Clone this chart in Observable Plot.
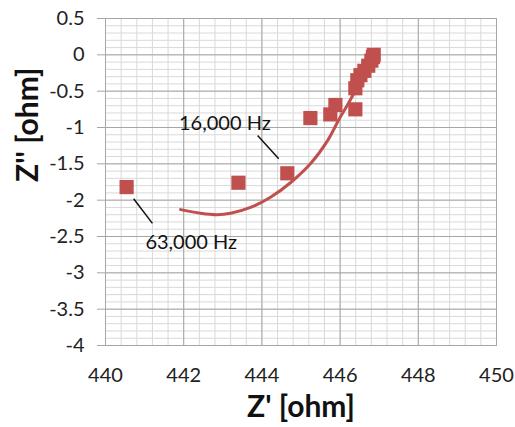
<!DOCTYPE html>
<html>
<head>
<meta charset="utf-8">
<script src="https://cdn.jsdelivr.net/npm/d3@7"></script>
<script src="https://cdn.jsdelivr.net/npm/@observablehq/plot@0.6"></script>
<style>
  html, body { margin: 0; padding: 0; background: #fff; }
  #chart { width: 515px; height: 427px; }
</style>
</head>
<body>
<div id="chart"></div>
<script>
// Measured points (Z' real, Z'' imaginary), ohm
const measZre = [440.54, 443.40, 444.65, 445.24, 445.75, 445.88, 446.39, 446.39, 446.44, 446.52, 446.62, 446.72, 446.80, 446.84, 446.86];
const measZim = [-1.82, -1.76, -1.63, -0.87, -0.82, -0.69, -0.75, -0.46, -0.35, -0.28, -0.22, -0.15, -0.08, -0.03, 0.00];

// Fitted model curve
const fitZre = [441.92, 442.43, 442.86, 443.20, 443.71, 444.22, 444.73, 445.24, 445.68, 445.96, 446.21, 446.42, 446.62, 446.80];
const fitZim = [-2.13, -2.18, -2.20, -2.18, -2.10, -1.96, -1.76, -1.50, -1.18, -0.90, -0.67, -0.46, -0.24, -0.05];

// Annotations
const annoText = ["16,000 Hz", "63,000 Hz"];
const annoX = [441.88, 441.02];
const annoY = [-0.95, -2.58];
const leadX1 = [443.89, 440.72];
const leadY1 = [-1.11, -1.98];
const leadX2 = [444.43, 441.20];
const leadY2 = [-1.43, -2.32];

// Axis ticks
const xTicks = [440, 442, 444, 446, 448, 450];
const yTicks = [0.5, 0, -0.5, -1, -1.5, -2, -2.5, -3, -3.5, -4];
const xMinor = d3.range(0, 26).map(i => 440 + i * 0.4);
const yMinor = d3.range(0, 46).map(i => -4 + i * 0.1);

const xTitle = "Z' [ohm]";
const yTitle = "Z'' [ohm]";

const red = "#C0504D";
const meas = measZre.map((x, i) => ({x, y: measZim[i]}));
const fit = fitZre.map((x, i) => ({x, y: fitZim[i]}));
const anno = annoText.map((t, i) => ({t, x: annoX[i], y: annoY[i], x1: leadX1[i], y1: leadY1[i], x2: leadX2[i], y2: leadY2[i]}));

const chart = Plot.plot({
  width: 515,
  height: 427,
  marginLeft: 105,
  marginRight: 19,
  marginTop: 18,
  marginBottom: 82,
  style: {fontFamily: "Lato, 'Open Sans', sans-serif", fontSize: "20px", color: "#222", background: "#fff"},
  x: {domain: [440, 450]},
  y: {domain: [-4, 0.5]},
  marks: [
    Plot.gridX(xMinor, {stroke: "#d9d9d9", strokeOpacity: 1, strokeWidth: 1}),
    Plot.gridY(yMinor, {stroke: "#d9d9d9", strokeOpacity: 1, strokeWidth: 1}),
    Plot.gridX(xTicks, {stroke: "#a6a6a6", strokeOpacity: 1, strokeWidth: 1}),
    Plot.gridY(yTicks, {stroke: "#a6a6a6", strokeOpacity: 1, strokeWidth: 1}),
    Plot.frame({stroke: "#a6a6a6"}),
    Plot.axisY({ticks: yTicks, tickSize: 8, text: null, stroke: "#a6a6a6", label: null}),
    Plot.axisY({ticks: yTicks, tickSize: 0, tickPadding: 21, tickFormat: d => String(d), fontSize: 20, label: null}),
    Plot.axisX({ticks: xTicks, tickSize: 0, tickPadding: 22, tickFormat: d => String(d), fontSize: 20, label: null}),
    Plot.line(fit, {x: "x", y: "y", stroke: red, strokeWidth: 3, curve: "catmull-rom"}),
    Plot.dot(meas, {x: "x", y: "y", symbol: "square", r: 8, fill: red, stroke: "none"}),
    Plot.link(anno, {x1: "x1", y1: "y1", x2: "x2", y2: "y2", stroke: "#111", strokeWidth: 1.5}),
    Plot.text(anno, {x: "x", y: "y", text: "t", textAnchor: "start", fontSize: 20, fill: "#111"}),
    Plot.text([xTitle], {frameAnchor: "bottom", dy: 71, fontSize: 30, fontWeight: "bold", fill: "#111"}),
    Plot.text([yTitle], {frameAnchor: "left", dx: -77, rotate: -90, fontSize: 30, fontWeight: "bold", fill: "#111"})
  ]
});
document.getElementById("chart").appendChild(chart);
</script>
</body>
</html>
